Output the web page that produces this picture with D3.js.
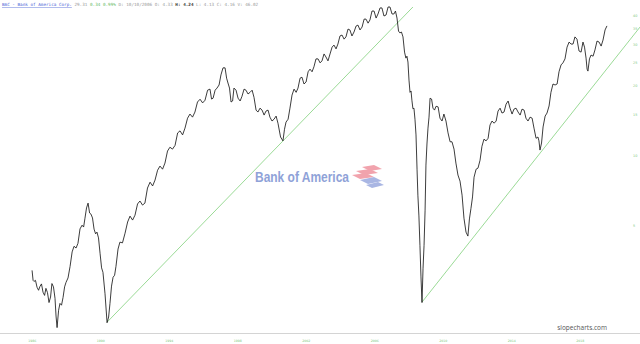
<!DOCTYPE html>
<html>
<head>
<meta charset="utf-8">
<title>BAC - Bank of America Corp.</title>
<script src="https://cdnjs.cloudflare.com/ajax/libs/d3/7.8.5/d3.min.js"></script>
<style>
  body { margin:0; background:#fff; overflow:hidden; }
</style>
</head>
<body>
<svg id="chart" width="640" height="344"></svg>
<script>
  // price history (decimal year, adjusted close)
  var dates = [
    1986.43, 1986.54, 1986.72, 1986.89, 1987.07, 1987.24, 1987.42, 1987.59, 1987.77, 1987.89,
    1988.06, 1988.24, 1988.41, 1988.65, 1988.88, 1989.11, 1989.35, 1989.52, 1989.70, 1989.87,
    1990.05, 1990.22, 1990.40, 1990.57, 1990.81, 1990.98, 1991.16, 1991.33, 1991.56, 1991.86,
    1992.15, 1992.44, 1992.73, 1993.02, 1993.32, 1993.61, 1993.90, 1994.19, 1994.48, 1994.78,
    1995.07, 1995.36, 1995.65, 1995.94, 1996.24, 1996.53, 1996.82, 1997.00, 1997.23, 1997.46,
    1997.70, 1997.87, 1998.05, 1998.22, 1998.46, 1998.69, 1998.92, 1999.16, 1999.39, 1999.62,
    1999.86, 2000.09, 2000.32, 2000.56, 2000.79, 2001.08, 2001.26, 2001.49, 2001.73, 2001.96,
    2002.19, 2002.43, 2002.66, 2002.89, 2003.13, 2003.36, 2003.59, 2003.83, 2004.06, 2004.29,
    2004.53, 2004.76, 2004.99, 2005.23, 2005.46, 2005.70, 2005.93, 2006.16, 2006.40, 2006.63,
    2006.86, 2007.10, 2007.33, 2007.56, 2007.74, 2007.91, 2008.09, 2008.26, 2008.38, 2008.50,
    2008.61, 2008.73, 2008.85, 2008.96, 2009.08, 2009.20, 2009.32, 2009.43, 2009.55, 2009.67,
    2009.84, 2010.02, 2010.25, 2010.48, 2010.72, 2010.95, 2011.18, 2011.42, 2011.65, 2011.88,
    2012.06, 2012.24, 2012.47, 2012.70, 2012.94, 2013.17, 2013.41, 2013.64, 2013.87, 2014.11,
    2014.34, 2014.57, 2014.81, 2015.04, 2015.27, 2015.51, 2015.74, 2015.97, 2016.09, 2016.27,
    2016.50, 2016.73, 2016.97, 2017.20, 2017.43, 2017.67, 2017.90, 2018.13, 2018.37, 2018.60,
    2018.78, 2018.89, 2019.07, 2019.30, 2019.54, 2019.77, 2020.00
  ];
  var prices = [
    3.19, 2.86, 2.70, 2.72, 2.57, 2.67, 2.32, 2.80, 2.42, 1.81,
    2.30, 2.44, 2.83, 3.32, 4.05, 4.17, 4.99, 5.35, 6.21, 5.57,
    4.80, 4.66, 3.78, 3.13, 1.90, 2.30, 2.98, 3.32, 4.22, 4.61,
    5.46, 5.51, 6.34, 6.21, 7.64, 7.80, 8.96, 9.23, 10.8, 11.0,
    12.7, 13.05, 15.0, 15.3, 17.37, 17.2, 19.2, 17.55, 19.4, 22.1,
    23.7, 20.4, 16.9, 19.4, 17.55, 17.9, 19.0, 18.6, 17.7, 15.3,
    15.6, 15.45, 14.55, 14.25, 13.7, 11.5, 13.85, 15.9, 19.2, 19.4,
    21.6, 20.6, 23.4, 23.95, 25.9, 25.4, 26.4, 27.2, 29.7, 30.0,
    32.8, 32.2, 34.5, 33.8, 36.2, 35.5, 38.4, 38.07, 41.6, 40.4,
    42.9, 40.0, 43.3, 40.4, 38.8, 33.5, 32.2, 26.1, 25.1, 18.6,
    17.2, 15.9, 12.2, 6.72, 4.09, 2.32, 4.09, 9.05, 13.05, 17.55,
    15.9, 16.2, 14.4, 15.0, 12.45, 11.4, 9.23, 7.72, 5.35, 4.48,
    5.9, 8.03, 8.78, 10.9, 11.5, 13.45, 13.7, 15.45, 15.15, 16.55,
    15.9, 15.75, 15.3, 15.75, 14.4, 14.55, 13.05, 11.95, 10.5, 13.2,
    15.15, 18.6, 20.0, 22.8, 24.9, 29.1, 30.0, 32.2, 28.0, 30.6,
    26.1, 22.95, 26.9, 28.3, 30.6, 31.2, 35.9
  ];
  // in-between sessions, the short swings that make the line look hairy
  var midDates = [
    1986.49, 1986.63, 1986.81, 1986.98, 1987.16, 1987.33, 1987.51, 1987.68, 1987.83, 1987.98,
    1988.15, 1988.33, 1988.53, 1988.77, 1989.00, 1989.23, 1989.44, 1989.61, 1989.79, 1989.96,
    1990.14, 1990.31, 1990.49, 1990.69, 1990.90, 1991.07, 1991.25, 1991.45, 1991.71, 1992.01,
    1992.30, 1992.59, 1992.88, 1993.17, 1993.47, 1993.76, 1994.05, 1994.34, 1994.63, 1994.93,
    1995.22, 1995.51, 1995.80, 1996.09, 1996.39, 1996.68, 1996.91, 1997.12, 1997.35, 1997.58,
    1997.79, 1997.96, 1998.14, 1998.34, 1998.58, 1998.81, 1999.04, 1999.28, 1999.51, 1999.74,
    1999.98, 2000.21, 2000.44, 2000.68, 2000.94, 2001.17, 2001.38, 2001.61, 2001.85, 2002.08,
    2002.31, 2002.55, 2002.78, 2003.01, 2003.25, 2003.48, 2003.71, 2003.95, 2004.18, 2004.41,
    2004.65, 2004.88, 2005.11, 2005.35, 2005.58, 2005.82, 2006.05, 2006.28, 2006.52, 2006.75,
    2006.98, 2007.22, 2007.45, 2007.65, 2007.83, 2008.00, 2008.18, 2008.32, 2008.44, 2008.56,
    2008.67, 2008.79, 2008.91, 2009.02, 2009.14, 2009.26, 2009.38, 2009.49, 2009.61, 2009.76,
    2009.93, 2010.14, 2010.37, 2010.60, 2010.84, 2011.07, 2011.30, 2011.54, 2011.77, 2011.97,
    2012.15, 2012.36, 2012.59, 2012.82, 2013.06, 2013.29, 2013.53, 2013.76, 2013.99, 2014.23,
    2014.46, 2014.69, 2014.93, 2015.16, 2015.39, 2015.63, 2015.86, 2016.03, 2016.18, 2016.39,
    2016.62, 2016.85, 2017.09, 2017.32, 2017.55, 2017.79, 2018.02, 2018.25, 2018.49, 2018.69,
    2018.84, 2018.98, 2019.19, 2019.42, 2019.66, 2019.89
  ];
  var midPrices = [
    2.89, 2.89, 2.62, 2.79, 2.49, 2.56, 2.45, 2.71, 2.03, 2.15,
    2.26, 2.71, 2.96, 3.83, 3.98, 4.81, 4.90, 5.92, 5.63, 5.36,
    4.58, 4.40, 3.27, 2.53, 2.01, 2.73, 3.04, 3.94, 4.19, 5.15,
    5.25, 6.16, 6.09, 7.21, 7.36, 8.6, 8.69, 10.4, 10.6, 12.44,
    12.2, 14.4, 14.55, 16.9, 16.75, 19.0, 17.4, 19.0, 20.0, 23.7,
    21.4, 19.4, 17.07, 19.0, 17.07, 19.2, 18.3, 19.0, 15.6, 15.9,
    14.85, 15.6, 14.0, 14.7, 11.95, 12.9, 14.25, 18.1, 18.6, 21.4,
    20.2, 22.8, 22.8, 25.9, 24.9, 27.2, 25.4, 29.1, 28.6, 32.5,
    31.5, 34.8, 32.5, 35.85, 34.5, 38.4, 36.9, 41.6, 38.8, 42.9,
    39.6, 43.3, 40.4, 41.6, 34.1, 33.8, 27.7, 26.6, 21.0, 18.85,
    15.8, 14.25, 8.69, 5.47, 2.99, 3.24, 5.79, 11.15, 14.55, 17.4,
    15.6, 16.1, 14.0, 14.0, 11.4, 10.6, 8.2, 6.72, 4.66, 5.31,
    6.60, 8.69, 9.5, 11.7, 11.8, 14.0, 14.0, 15.9, 15.3, 17.07,
    15.0, 15.9, 14.85, 15.6, 14.0, 14.4, 11.8, 11.5, 11.26, 14.7,
    16.25, 20.2, 20.2, 24.4, 25.9, 30.6, 30.0, 31.5, 27.7, 29.1,
    23.4, 25.9, 26.6, 30.9, 29.4, 34.5
  ];
  // green trendlines (two end points each)
  var trend1Dates = [1990.81, 2008.67];
  var trend1Prices = [1.91, 43.3];
  var trend2Dates = [2009.20, 2021.93];
  var trend2Prices = [2.33, 35.5];
  // axis labels
  var yearTicks = [1986, 1990, 1994, 1998, 2002, 2006, 2010, 2014, 2018];
  var priceTicks = [40, 35, 30, 25, 20, 15, 10, 5];

  var W = 640, H = 344;
  var green = "#7cc77c";
  var svg = d3.select("#chart");

  var xScale = d3.scaleLinear().domain([1986, 2018]).range([24.7, 572.7]);
  var yScale = d3.scaleLog().domain([40, 5]).range([15, 225]);

  svg.append("defs").append("clipPath").attr("id", "plot")
    .append("rect").attr("x", 0).attr("y", 0).attr("width", W).attr("height", 333);

  // watermark logo
  var logo = svg.append("g").attr("class", "logo");
  logo.append("text")
    .attr("x", 255).attr("y", 182)
    .attr("textLength", 94).attr("lengthAdjust", "spacingAndGlyphs")
    .style("font-family", "'Liberation Sans', Arial, sans-serif")
    .style("font-weight", "bold")
    .style("font-size", "15px")
    .style("fill", "#8fa2d8")
    .text("Bank of America");
  var flag = logo.append("g").attr("transform", "translate(352,165)");
  var stripes = [
    {d: "M10,2 L22,0 L30,4 L18,6 Z", c: "#f1a3ad"},
    {d: "M4,6 L18,4 L26,8 L12,10 Z", c: "#f1a3ad"},
    {d: "M0,10 L14,8 L22,12 L8,14 Z", c: "#f1a3ad"},
    {d: "M8,15 L22,12 L30,16 L16,19 Z", c: "#a9b6e3"},
    {d: "M14,20 L26,17 L32,20 L20,23 Z", c: "#a9b6e3"}
  ];
  flag.selectAll("path").data(stripes).enter().append("path")
    .attr("d", function(d) { return d.d; })
    .style("fill", function(d) { return d.c; });

  // trendlines
  var line = d3.line()
    .x(function(d) { return xScale(d[0]); })
    .y(function(d) { return yScale(d[1]); });

  var trends = [d3.zip(trend1Dates, trend1Prices), d3.zip(trend2Dates, trend2Prices)];
  svg.append("g").attr("clip-path", "url(#plot)")
    .selectAll(".trend").data(trends).enter().append("path")
    .attr("class", "trend")
    .attr("d", line)
    .style("fill", "none")
    .style("stroke", "#8fd68a")
    .style("stroke-width", 0.9);

  // price line: both sets of sessions in date order
  var series = d3.zip(dates, prices).concat(d3.zip(midDates, midPrices))
    .sort(function(a, b) { return a[0] - b[0]; });
  svg.append("path")
    .datum(series)
    .attr("d", line)
    .style("fill", "none")
    .style("stroke", "#1a1a1a")
    .style("stroke-width", 0.85)
    .style("stroke-linejoin", "miter");

  // bottom separator
  svg.append("line")
    .attr("x1", 0).attr("x2", W).attr("y1", 333.5).attr("y2", 333.5)
    .style("stroke", "#d4d4d4").style("stroke-width", 1);

  // x axis
  var xAxis = svg.append("g")
    .attr("transform", "translate(0,337)")
    .call(d3.axisBottom(xScale).tickValues(yearTicks).tickFormat(d3.format("d")).tickSize(0));
  xAxis.select(".domain").remove();
  xAxis.selectAll("text")
    .attr("dx", 7).attr("dy", "0.7em")
    .style("font-family", "'DejaVu Sans', sans-serif")
    .style("font-size", "3.2px")
    .style("fill", green);

  // y axis (right)
  var yAxis = svg.append("g")
    .attr("transform", "translate(633,0)")
    .call(d3.axisRight(yScale).tickValues(priceTicks).tickFormat(d3.format("d")).tickSize(0));
  yAxis.select(".domain").remove();
  yAxis.selectAll("text")
    .attr("x", 0)
    .style("font-family", "'DejaVu Sans', sans-serif")
    .style("font-size", "3.4px")
    .style("fill", green);

  // site credit
  svg.append("text")
    .attr("x", 607).attr("y", 329.5)
    .attr("text-anchor", "end")
    .style("font-family", "'Open Sans', sans-serif")
    .style("font-size", "6.5px")
    .style("fill", "#555")
    .text("slopecharts.com");

  // header
  var header = svg.append("text")
    .attr("x", 2).attr("y", 6)
    .style("font-family", "'DejaVu Sans Mono', monospace")
    .style("font-size", "4.3px")
    .attr("xml:space", "preserve");
  var parts = [
    {t: "BAC - Bank of America Corp.", c: "#4a62d6", u: true},
    {t: " 29.31", c: "#9a9a9a"},
    {t: " 0.34 0.99%", c: "#66bb66"},
    {t: " D: 10/10/2006 O: 4.33", c: "#9a9a9a"},
    {t: " H: 4.24", c: "#333", b: true},
    {t: " L: 4.13 C: 4.16 V: 46.02", c: "#9a9a9a"}
  ];
  header.selectAll("tspan").data(parts).enter().append("tspan")
    .style("fill", function(d) { return d.c; })
    .style("font-weight", function(d) { return d.b ? "bold" : "normal"; })
    .style("text-decoration", function(d) { return d.u ? "underline" : "none"; })
    .text(function(d) { return d.t; });
</script>
</body>
</html>
